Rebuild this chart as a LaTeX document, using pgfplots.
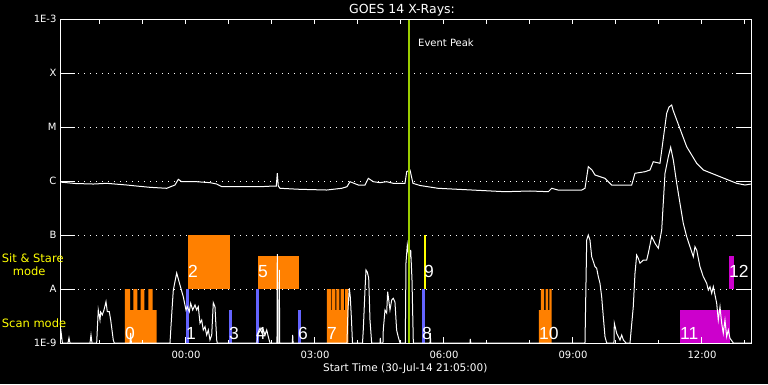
\documentclass[border=0pt]{standalone}
\usepackage{fontspec}
\setmainfont{DejaVu Sans}
\newfontfamily\numfont{Liberation Sans}
\usepackage{pgfplots}
\pgfplotsset{compat=1.18}
\definecolor{iorange}{RGB}{255,128,0}
\definecolor{iblue}{RGB}{100,100,255}
\definecolor{imag}{RGB}{204,0,204}
\definecolor{igreen}{RGB}{155,205,0}
\definecolor{iyellow}{RGB}{255,255,0}
\pgfplotsset{
  goesax/.style={
    at={(60pt,41pt)}, anchor=south west, scale only axis,
    width=691pt, height=324pt,
    xmin=-2.93, xmax=13.14, ymin=-9, ymax=-3,
    axis line style={white, line width=1pt},
    tick style={white, line width=1pt},
    tick align=inside,
    ticklabel style={white, font=\fontsize{10}{11}\selectfont},
  },
}
\tikzset{lbl/.style={anchor=base west, white, font=\numfont\fontsize{17.5}{18}\selectfont, inner sep=0pt}}
\begin{document}
\begin{tikzpicture}
\fill[black] (0pt,0pt) rectangle (768pt,384pt);
% y ticks and grid
\begin{axis}[goesax, xtick=\empty, ytick={-9,-8,-7,-6,-5,-4,-3},
  yticklabels={1E-9,A,B,C,M,X,1E-3}, ytick pos=both, ymajorgrids,
  major tick length=15pt,
  grid style={white, line width=0.9pt, dash pattern=on 0.9pt off 5.1pt}]
\end{axis}
% main data axis
\begin{axis}[goesax, axis on top, xtick={0,3,6,9,12},
  xticklabels={00:00,03:00,06:00,09:00,12:00},
  minor xtick={-2,-1,1,2,4,5,7,8,10,11,13}, xtick pos=left, ytick=\empty,
  major tick length=6pt, minor tick length=3pt,
  xticklabel style={yshift=-5pt}]
% Block 0 (scan, orange)
\addplot[fill=iorange, draw=none] coordinates {(-1.419,-9) (-1.419,-8) (-1.302,-8) (-1.302,-8.389) (-1.226,-8.389) (-1.226,-8) (-1.133,-8) (-1.133,-8.389) (-1.053,-8.389) (-1.053,-8) (-0.970,-8) (-0.970,-8.389) (-0.877,-8.389) (-0.877,-8) (-0.774,-8) (-0.774,-8.389) (-0.681,-8.389) (-0.681,-9)} -- cycle;
% Bar 1
\addplot[fill=iblue, draw=none] coordinates {(0,-9) (0,-8) (0.070,-8) (0.070,-9)} -- cycle;
% Block 2
\addplot[fill=iorange, draw=none] coordinates {(0.047,-8) (0.047,-7) (1.016,-7) (1.016,-8)} -- cycle;
% Bar 3
\addplot[fill=iblue, draw=none] coordinates {(1.0,-9) (1.0,-8.389) (1.070,-8.389) (1.070,-9)} -- cycle;
% Bar 4
\addplot[fill=iblue, draw=none] coordinates {(1.628,-9) (1.628,-8) (1.698,-8) (1.698,-9)} -- cycle;
% Block 5
\addplot[fill=iorange, draw=none] coordinates {(1.674,-8) (1.674,-7.389) (2.628,-7.389) (2.628,-8)} -- cycle;
% Bar 6
\addplot[fill=iblue, draw=none] coordinates {(2.605,-9) (2.605,-8.389) (2.674,-8.389) (2.674,-9)} -- cycle;
% Block 7
\addplot[fill=iorange, draw=none] coordinates {(3.279,-9) (3.279,-8) (3.372,-8) (3.372,-8.389) (3.388,-8.389) (3.388,-8) (3.472,-8) (3.472,-8.389) (3.495,-8.389) (3.495,-8) (3.565,-8) (3.565,-8.389) (3.598,-8.389) (3.598,-8) (3.674,-8) (3.674,-8.389) (3.698,-8.389) (3.698,-8) (3.774,-8) (3.774,-9)} -- cycle;
% Bar 8
\addplot[fill=iblue, draw=none] coordinates {(5.488,-9) (5.488,-8) (5.558,-8) (5.558,-9)} -- cycle;
% Bar 9
\addplot[fill=iyellow, draw=none] coordinates {(5.535,-8) (5.535,-7) (5.581,-7) (5.581,-8)} -- cycle;
% Block 10
\addplot[fill=iorange, draw=none] coordinates {(8.209,-9) (8.209,-8.389) (8.256,-8.389) (8.256,-8) (8.326,-8) (8.326,-8.389) (8.365,-8.389) (8.365,-8) (8.419,-8) (8.419,-8.389) (8.449,-8.389) (8.449,-8) (8.505,-8) (8.505,-9)} -- cycle;
% Block 11
\addplot[fill=imag, draw=none] coordinates {(11.488,-9) (11.488,-8.389) (12.644,-8.389) (12.644,-9)} -- cycle;
% Block 12
\addplot[fill=imag, draw=none] coordinates {(12.628,-8) (12.628,-7.389) (12.737,-7.389) (12.737,-8)} -- cycle;
% long channel
\addplot[white, line width=1pt] coordinates {
(-2.930,-6.019) (-2.581,-6.046) (-2.156,-6.056) (-1.844,-6.043) (-1.379,-6.074) (-1.147,-6.093)
(-0.837,-6.117) (-0.449,-6.135) (-0.256,-6.074) (-0.179,-5.969) (-0.100,-6.013) (0.249,-6.013)
(0.558,-6.031) (0.714,-6.056) (0.837,-6.106) (1.721,-6.106) (2.030,-6.093) (2.100,-6.093)
(2.123,-5.857) (2.147,-6.093) (2.186,-6.135) (2.651,-6.154) (3.272,-6.167) (3.621,-6.135)
(3.744,-6.106) (3.814,-6.013) (4.007,-6.074) (4.163,-6.074) (4.240,-5.950) (4.356,-6.013)
(4.512,-6.031) (4.667,-6.013) (4.821,-6.043) (5.093,-6.043) (5.133,-5.828) (5.209,-5.796)
(5.279,-6.043) (5.442,-6.083) (5.860,-6.135) (6.651,-6.167) (7.419,-6.198) (8.0,-6.185)
(8.426,-6.198) (8.505,-6.135) (8.651,-6.167) (9.202,-6.167) (9.279,-6.135) (9.356,-5.735)
(9.442,-5.796) (9.512,-5.889) (9.744,-5.950) (9.900,-6.074) (10.365,-6.074) (10.442,-5.857)
(10.674,-5.828) (10.791,-5.796) (10.867,-5.643) (11.023,-5.672) (11.179,-4.746) (11.233,-4.630)
(11.295,-4.593) (11.326,-4.685) (11.412,-4.870) (11.644,-5.365) (11.877,-5.672) (12.030,-5.796)
(12.419,-5.920) (12.807,-6.043) (13.0,-6.074) (13.14,-6.056)};
% short channel
\addplot[white, line width=1pt] coordinates {
(-2.930,-9) (-2.902,-8.815) (-2.874,-9) (-2.744,-9) (-2.721,-8.907) (-2.698,-9)
(-2.233,-9) (-2.209,-8.852) (-2.186,-9) (-2.077,-9) (-2.040,-8.389) (-2.0,-8.574)
(-1.984,-8.426) (-1.947,-8.481) (-1.907,-8.389) (-1.860,-8.235) (-1.830,-8.420) (-1.784,-8.420)
(-1.751,-8.574) (-1.721,-8.759) (-1.691,-8.944) (-1.667,-9) (-1.302,-9) (-1.286,-8.815) (-1.270,-9)
(-0.372,-9) (-0.333,-8.481) (-0.295,-8.019) (-0.216,-7.704) (-0.140,-7.926) (-0.063,-8.143)
(0,-8.389) (0.030,-8.328) (0.077,-8.420) (0.109,-8.265) (0.156,-8.389) (0.209,-8.296)
(0.249,-8.389) (0.286,-8.328) (0.326,-8.635) (0.365,-8.574) (0.402,-8.759) (0.442,-8.698)
(0.481,-8.852) (0.519,-8.759) (0.558,-8.944) (0.598,-8.852) (0.635,-8.254) (0.674,-8.328)
(0.714,-8.944) (0.728,-9) (1.651,-9) (1.674,-8.815) (1.721,-8.722) (1.767,-8.815)
(1.798,-8.759) (1.837,-8.852) (1.877,-8.759) (1.914,-8.883) (1.953,-9) (2.116,-9)
(2.123,-7.352) (2.133,-9) (2.163,-9) (2.170,-7.648) (2.179,-9) (2.472,-9) (2.481,-8.852)
(2.491,-9) (3.744,-9) (3.767,-8.389) (3.798,-7.987) (3.821,-8.148) (3.849,-8.574) (3.872,-9)
(4.105,-9) (4.123,-8.759) (4.163,-8.019) (4.186,-7.648) (4.216,-7.685) (4.249,-7.796)
(4.279,-8.574) (4.318,-9) (4.512,-9) (4.519,-8.907) (4.528,-9) (4.581,-9) (4.588,-8.759)
(4.628,-8.389) (4.667,-8.444) (4.690,-8.050) (4.721,-8.241) (4.744,-8.389) (4.784,-8.204)
(4.821,-8.172) (4.860,-8.241) (4.898,-8.759) (4.937,-8.889) (4.977,-9) (5.100,-9)
(5.116,-7.519) (5.147,-7.185) (5.193,-7.463) (5.226,-7.278) (5.256,-7.833) (5.287,-9)
(5.674,-9) (5.681,-8.815) (5.691,-9) (6.605,-9) (6.612,-8.926) (6.621,-9) (9.279,-9)
(9.319,-7.093) (9.356,-7.0) (9.395,-7.093) (9.435,-7.402) (9.512,-7.587) (9.551,-7.617)
(9.589,-7.772) (9.628,-7.894) (9.667,-8.143) (9.705,-8.513) (9.744,-8.883) (9.784,-9)
(9.953,-9) (9.961,-8.635) (10.016,-8.820) (10.054,-8.883) (10.093,-8.944) (10.133,-8.852)
(10.172,-8.944) (10.233,-9) (10.326,-9) (10.402,-8.328) (10.442,-7.709) (10.481,-7.370)
(10.519,-7.431) (10.558,-7.524) (10.635,-7.463) (10.714,-7.463) (10.751,-7.339) (10.830,-7.031)
(10.907,-7.154) (10.984,-7.246) (11.063,-6.907) (11.140,-5.857) (11.217,-5.550) (11.272,-5.376)
(11.333,-5.611) (11.412,-6.043) (11.488,-6.413) (11.565,-6.783) (11.644,-7.031) (11.721,-7.217)
(11.798,-7.402) (11.837,-7.217) (11.877,-7.278) (11.953,-7.587) (12.030,-7.772) (12.109,-7.894)
(12.147,-8.019) (12.186,-7.957) (12.226,-8.080) (12.263,-7.957) (12.342,-8.265) (12.379,-8.574)
(12.419,-8.328) (12.458,-8.635) (12.495,-8.820) (12.535,-8.574) (12.574,-8.883) (12.612,-8.759)
(12.651,-8.913) (12.730,-9) (13.14,-9)};
% event peak line
\addplot[igreen, line width=2pt] coordinates {(5.186,-9) (5.186,-3)};
% block labels
\node[lbl] at (axis cs:-1.419,-8.931) {0};
\node[lbl] at (axis cs:0.0,-8.931) {1};
\node[lbl] at (axis cs:0.047,-7.791) {2};
\node[lbl] at (axis cs:1.0,-8.931) {3};
\node[lbl] at (axis cs:1.628,-8.931) {4};
\node[lbl] at (axis cs:1.674,-7.791) {5};
\node[lbl] at (axis cs:2.605,-8.931) {6};
\node[lbl] at (axis cs:3.279,-8.931) {7};
\node[lbl] at (axis cs:5.488,-8.931) {8};
\node[lbl] at (axis cs:5.535,-7.791) {9};
\node[lbl] at (axis cs:8.209,-8.931) {10};
\node[lbl] at (axis cs:11.488,-8.931) {11};
\node[lbl] at (axis cs:12.628,-7.791) {12};
\end{axis}
% top ticks
\begin{axis}[goesax, xtick={-2,-1,0,1,2,3,4,5,6,7,8,9,10,11,12,13}, xticklabels={},
  xtick pos=right, ytick=\empty, major tick length=5pt]
\end{axis}
% texts
\node[anchor=base, white, font=\fontsize{12.5}{13}\selectfont, inner sep=0pt] at (402pt,370.7pt) {GOES 14 X-Rays:};
\node[anchor=base west, white, font=\fontsize{10}{11}\selectfont, inner sep=0pt] at (418pt,337.3pt) {Event Peak};
\node[anchor=base, white, font=\fontsize{10.5}{11}\selectfont, inner sep=0pt] at (405.3pt,12.3pt) {Start Time (30-Jul-14 21:05:00)};
\node[anchor=base west, iyellow, font=\fontsize{11.5}{12}\selectfont, inner sep=0pt] at (1.7pt,121.3pt) {Sit \& Stare};
\node[anchor=base west, iyellow, font=\fontsize{11.5}{12}\selectfont, inner sep=0pt] at (12.7pt,109pt) {mode};
\node[anchor=base west, iyellow, font=\fontsize{11.5}{12}\selectfont, inner sep=0pt] at (1.7pt,56.7pt) {Scan mode};
\end{tikzpicture}
\end{document}
